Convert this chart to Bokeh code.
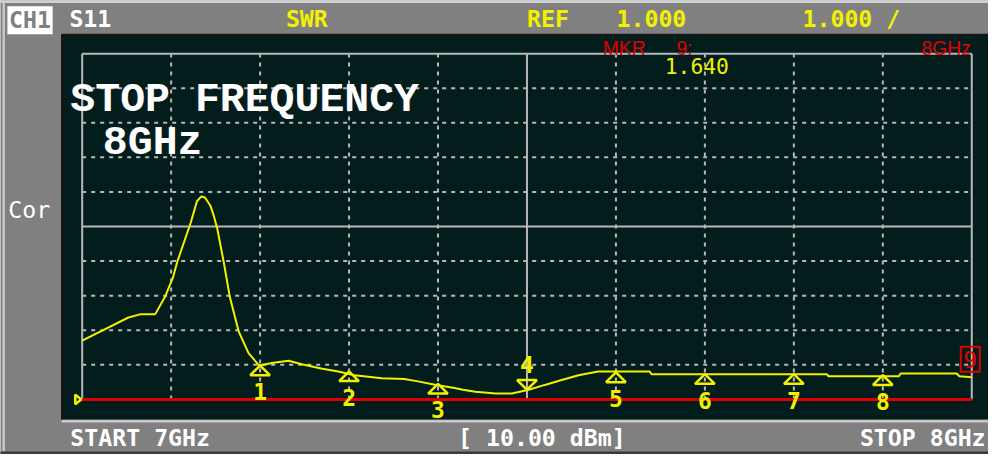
import numpy as np
from bokeh.plotting import figure
from bokeh.models import Range1d
from bokeh.embed import file_html
from bokeh.resources import INLINE
from bokeh.core.properties import value

# ---------------- data ----------------
freq_ghz = [7.000, 7.052, 7.065, 7.082, 7.093, 7.102, 7.107, 7.122, 7.129, 7.134,
            7.138, 7.144, 7.148, 7.152, 7.159, 7.166, 7.176, 7.187, 7.199, 7.215,
            7.232, 7.248, 7.270, 7.288, 7.306, 7.337, 7.362, 7.376, 7.398, 7.417,
            7.428, 7.442, 7.465, 7.483, 7.502, 7.520, 7.539, 7.558, 7.580, 7.638,
            7.640, 7.837, 7.839, 7.918, 7.920, 7.983, 7.986, 8.000]
swr = [2.70, 3.37, 3.46, 3.46, 3.96, 4.52, 4.99, 6.11, 6.73, 6.87,
       6.84, 6.61, 6.31, 5.92, 4.99, 3.96, 2.96, 2.34, 1.98, 2.06,
       2.12, 2.01, 1.89, 1.81, 1.70, 1.61, 1.59, 1.53, 1.42, 1.34,
       1.28, 1.22, 1.17, 1.17, 1.28, 1.42, 1.56, 1.70, 1.81, 1.81,
       1.73, 1.73, 1.67, 1.67, 1.75, 1.75, 1.67, 1.64]

marker_ids = ["1", "2", "3", "4", "5", "6", "7", "8"]
marker_freq = [7.2, 7.3, 7.4, 7.5, 7.6, 7.7, 7.8, 7.9]
marker_swr = [1.98, 1.81, 1.45, 1.28, 1.78, 1.73, 1.73, 1.70]
marker_up = [True, True, True, False, True, True, True, True]

active_id = "9"
active_freq = 8.0
active_swr = 1.640

x_ticks = [7.0, 7.1, 7.2, 7.3, 7.4, 7.5, 7.6, 7.7, 7.8, 7.9, 8.0]
y_ticks = [1, 2, 3, 4, 5, 6, 7, 8, 9, 10, 11]
ref_level = 1.0

# ---------------- layout ----------------
W, H = 988, 454
SX, SY = W / 1004, H / 470                 # reference image -> figure scale
GL, GR, GT, GB = 83 * SX, 987 * SX, 55 * SY, 413 * SY   # graticule edges (figure px)
dx = (x_ticks[-1] - x_ticks[0]) / (GR - GL)
dy = (y_ticks[-1] - y_ticks[0]) / (GB - GT)
x0 = x_ticks[0] - GL * dx
x1 = x_ticks[0] + (W - GL) * dx
y1 = y_ticks[-1] + GT * dy
y0 = y_ticks[0] - (H - GB) * dy


def fx(X):  # reference pixel -> data x
    return x0 + X * SX * dx


def fy(Y):  # reference pixel -> data y
    return y1 - Y * SY * dy


def px(n):
    return f"{n * SY:.1f}px"


GRAY = "#808080"
DARK = "#031d1d"
GRID = "#b8b8b8"
YEL = "#f2f200"
RED = "#e00000"
MONO = value("DejaVu Sans Mono")

p = figure(width=W, height=H, x_range=Range1d(x0, x1), y_range=Range1d(y0, y1),
           x_axis_type=None, y_axis_type=None, toolbar_location=None,
           output_backend="svg", min_border=0,
           background_fill_color=GRAY, border_fill_color=GRAY,
           outline_line_color=None)

# instrument panels
p.quad(left=fx(-5), right=fx(1010), top=fy(-5), bottom=fy(2.5), fill_color="#d0d0d0", line_color=None)
p.quad(left=fx(2), right=fx(4.5), top=fy(2), bottom=fy(467), fill_color="#c8c8c8", line_color=None)
p.quad(left=fx(-5), right=fx(1010), top=fy(467), bottom=fy(475), fill_color="#3a3a3a", line_color=None)
p.quad(left=fx(62), right=fx(1010), top=fy(35), bottom=fy(434), fill_color=DARK, line_color=None)
p.line([fx(62.5), fx(62.5), fx(1010)], [fy(434), fy(35.5), fy(35.5)], line_color="#151515", line_width=2)
p.quad(left=fx(62), right=fx(1010), top=fy(434), bottom=fy(437), fill_color="#c8c8c8", line_color=None)
p.quad(left=fx(7), right=fx(53), top=fy(6), bottom=fy(35), fill_color="white", line_color=None)

# graticule
xmin, xmax = x_ticks[0], x_ticks[-1]
ymin, ymax = y_ticks[0], y_ticks[-1]
xmid = x_ticks[len(x_ticks) // 2]
ymid = y_ticks[len(y_ticks) // 2]
vx = [x for x in x_ticks if x not in (xmin, xmax, xmid)]
hy = [y for y in y_ticks if y not in (ymin, ymax, ymid)]
p.segment(x0=vx, x1=vx, y0=[ymin] * len(vx), y1=[ymax] * len(vx),
          line_color=GRID, line_width=2, line_dash="4 5")
p.segment(x0=[xmin] * len(hy), x1=[xmax] * len(hy), y0=hy, y1=hy,
          line_color=GRID, line_width=2, line_dash="4 5")
sx = [xmin, xmid, xmax]
p.segment(x0=sx, x1=sx, y0=[ymin] * 3, y1=[ymax] * 3, line_color=GRID, line_width=2)
sy = [ymid, ymax]
p.segment(x0=[xmin] * 2, x1=[xmax] * 2, y0=sy, y1=sy, line_color=GRID, line_width=2)
p.line([xmin, xmax], [ref_level, ref_level], line_color=RED, line_width=3)

# reference position pointer (small right-pointing triangle left of the graticule)
rx, rh, rw = 6 * SX * dx, 5 * SY * dy, 1 * SX * dx
p.patches([[xmin - rw - rx, xmin - rw, xmin - rw - rx]],
          [[ref_level + rh, ref_level, ref_level - rh]],
          fill_color=None, line_color=YEL, line_width=2.5)

# trace
p.line(freq_ghz, swr, line_color=YEL, line_width=2)

# markers: flat triangles with apex on the trace
hw, th = 10 * SX * dx, 10 * SY * dy
tri_x, tri_y = [], []
for f, s, u in zip(marker_freq, marker_swr, marker_up):
    b = s - th if u else s + th
    tri_x.append([f, f - hw, f + hw])
    tri_y.append([s, b, b])
p.patches(tri_x, tri_y, fill_color=None, line_color=YEL, line_width=2.5)

mf = np.array(marker_freq)
ms = np.array(marker_swr)
up = np.array(marker_up)
ids = np.array(marker_ids)
p.text(mf[up], ms[up], text=list(ids[up]), y_offset=26, text_align="center",
       text_baseline="middle", text_font=MONO, text_font_style="bold",
       text_font_size="23px", text_color=YEL)
p.text(mf[~up], ms[~up], text=list(ids[~up]), y_offset=-25, text_align="center",
       text_baseline="middle", text_font=MONO, text_font_style="bold",
       text_font_size="23px", text_color=YEL)

# active marker box
p.rect([active_freq - 1.5 * dx], [active_swr + 18 * dy], width=19, height=25,
       width_units="screen", height_units="screen", fill_color=None,
       line_color=RED, line_width=2)
p.text([active_freq - 1.5 * dx], [active_swr + 18 * dy], text=[active_id],
       text_align="center", text_baseline="middle", text_font=MONO,
       text_font_size="23px", text_color=RED)


def label(X, Y, s, color, size=24, font=MONO, style="bold", align="left"):
    p.text([fx(X)], [fy(Y)], text=[s], text_align=align, text_baseline="middle",
           text_font=font, text_font_style=style, text_font_size=px(size), text_color=color)


# header (Y = vertical centre of the capitals in the reference)
label(30, 20, "CH1", GRAY, align="center")
label(70, 19, "S11", "white")
label(290, 19, "SWR", YEL)
label(535, 19, "REF", YEL)
label(626, 19, "1.000", YEL)
label(815, 19, "1.000 /", YEL)
label(8, 216, "Cor", "white", style="normal")
# footer
label(71, 452, "START 7GHz", "white")
label(465, 452, "[ 10.00 dBm]", "white")
label(1001, 452, "STOP 8GHz", "white", align="right")
# marker readout
SANS = value("Liberation Sans")
label(612, 49.5, "MKR", RED, size=20, font=SANS, style="normal")
label(687, 49.5, "9:", RED, size=20, font=SANS, style="normal")
label(986, 49.5, "8GHz", RED, size=20, font=SANS, style="normal", align="right")
label(675, 67.5, f"{active_swr:.3f}", YEL, size=22, style="normal")
# big message
label(71, 103, "STOP FREQUENCY", "white", size=43, font=value("Liberation Mono"))
label(104, 146.5, "8GHz", "white", size=43, font=value("Liberation Mono"))

open("out.html", "w").write(file_html(p, INLINE))
